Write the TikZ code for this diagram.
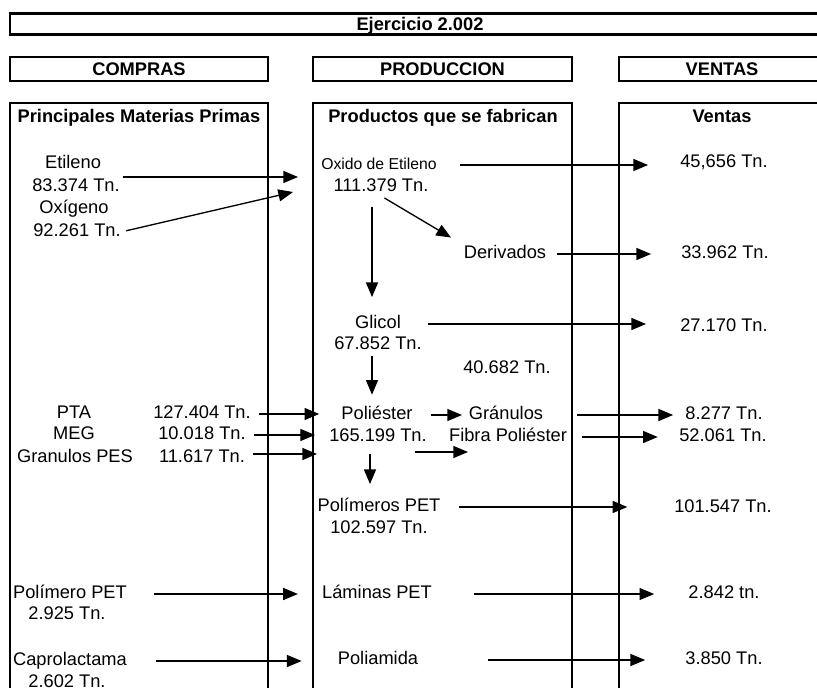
\documentclass[tikz,border=0pt]{standalone}
\usepackage{fontspec}
\setmainfont{Liberation Sans}
\usetikzlibrary{arrows.meta}

\tikzset{
  caja/.style={draw, line width=2pt, inner sep=0pt, text height=9.8pt, text depth=0pt, font=\fontsize{13.7}{16}\selectfont\bfseries},
  columna/.style={line width=2pt},
  cabecera/.style={inner sep=0pt, text height=10pt, text depth=3pt, font=\fontsize{13.7}{16}\selectfont\bfseries},
  txt/.style={inner sep=0pt, text height=10pt, text depth=3pt, font=\fontsize{13.7}{16}\selectfont},
  txtchico/.style={txt, font=\fontsize{11.8}{14}\selectfont},
  flecha/.style={line width=1pt, -{Triangle[length=11pt,width=9pt]}},
}

\begin{document}
\begin{tikzpicture}[x=0.75pt,y=0.75pt,yscale=-1,xscale=1]
\useasboundingbox (0,0) rectangle (817,688);
\clip (0,0) rectangle (817,688);

%Shape: Rectangle (title and headers)
\node[caja, minimum width=615pt, minimum height=15.75pt] (titulo) at (420,24) {Ejercicio 2.002};
\node[caja, minimum width=193.5pt, minimum height=18pt] (compras) at (139,69) {COMPRAS};
\node[caja, minimum width=194.25pt, minimum height=18pt] (produccion) at (442.5,69) {PRODUCCION};
\node[caja, minimum width=154.5pt, minimum height=18pt] (ventas) at (722,69) {VENTAS};

%Shape: Rectangle (columns)
\draw[columna] (10,103) rectangle (268,720);
\draw[columna] (313,103) rectangle (572,720);
\draw[columna] (619,103) rectangle (830,720);

% Text Node
\node[cabecera] (hcompras) at (139,118) {Principales Materias Primas};
\node[cabecera] (hproduccion) at (443,118) {Productos que se fabrican};
\node[cabecera] (hventas) at (722,118) {Ventas};

% Text Node (compras)
\node[txt] (etileno) at (73,164) {Etileno};
\node[txt] (etq83) at (76,187) {83.374 Tn.};
\node[txt] (oxigeno) at (74,209) {Oxígeno};
\node[txt] (etq92) at (77,232) {92.261 Tn.};
\node[txt] (pta) at (74,414) {PTA};
\node[txt] (meg) at (74,435) {MEG};
\node[txt] (gpes) at (75,458) {Granulos PES};
\node[txt] (pta127) at (202,414) {127.404 Tn.};
\node[txt] (meg10) at (202,435) {10.018 Tn.};
\node[txt] (gpes11) at (202,458) {11.617 Tn.};
\node[txt] (polpet) at (70,594) {Polímero PET};
\node[txt] (polpet29) at (67,615) {2.925 Tn.};
\node[txt] (capro) at (70,661) {Caprolactama};
\node[txt] (capro26) at (67,683) {2.602 Tn.};

% Text Node (produccion)
\node[txtchico] (oxido) at (379,165) {Oxido de Etileno};
\node[txt] (oxido111) at (381,187) {111.379 Tn.};
\node[txt] (deriv) at (505,254) {Derivados};
\node[txt] (glicol) at (378,324) {Glicol};
\node[txt] (glicol67) at (378,345) {67.852 Tn.};
\node[txt] (resto) at (507,369) {40.682 Tn.};
\node[txt] (poli) at (377,415) {Poliéster};
\node[txt] (poli165) at (378,437) {165.199 Tn.};
\node[txt] (gran) at (506,415) {Gránulos};
\node[txt] (fibra) at (508,437) {Fibra Poliéster};
\node[txt] (pet) at (379,507) {Polímeros PET};
\node[txt] (pet102) at (379,529) {102.597 Tn.};
\node[txt] (laminas) at (377,594) {Láminas PET};
\node[txt] (poliam) at (378,660) {Poliamida};

% Text Node (ventas)
\node[txt] (v1) at (724,163) {45,656 Tn.};
\node[txt] (v2) at (725,254) {33.962 Tn.};
\node[txt] (v3) at (724,327) {27.170 Tn.};
\node[txt] (v4) at (724,415) {8.277 Tn.};
\node[txt] (v5) at (723,437) {52.061 Tn.};
\node[txt] (v6) at (723,508) {101.547 Tn.};
\node[txt] (v7) at (724,594) {2.842 tn.};
\node[txt] (v8) at (724,660) {3.850 Tn.};

% free arrow ends
\coordinate (inEt) at (298,177);
\coordinate (inOx) at (293,192);
\coordinate (inG) at (317,454);
\coordinate (fA) at (415,452);
\coordinate (fB) at (468,452);
\coordinate (vG) at ([xshift=-4.5pt]glicol.north);
\coordinate (vP) at ([xshift=-3.75pt]poli.north);
\coordinate (vE) at ([xshift=-6.75pt]pet.north);

%Straight Lines (compras -> produccion)
\draw[flecha, shorten <=2pt] (etq83.east |- inEt) -- (inEt);
\draw[flecha, shorten <=4pt] (etq92.east) -- (inOx);
\draw[flecha, shorten <=6pt, shorten >=16.5pt] (pta127.east) -- (pta127.east -| poli.west);
\draw[flecha, shorten <=6pt, shorten >=10.5pt] (meg10.east) -- (meg10.east -| poli165.west);
\draw[flecha, shorten <=6pt] (gpes11.east |- inG) -- (inG);
\draw[flecha, shorten <=20pt, shorten >=18pt] (polpet.east) -- (polpet.east -| laminas.west);
\draw[flecha, shorten <=22pt, shorten >=27pt] (capro.east) -- (capro.east -| poliam.west);

%Straight Lines (dentro de produccion)
\draw[flecha, shorten <=3pt, shorten >=11pt] (oxido111.south) -- (deriv.north west);
\draw[flecha, shorten <=8pt, shorten >=13.5pt] (vG |- oxido111.south) -- (vG);
\draw[flecha, shorten <=1.5pt, shorten >=8.5pt] (vP |- glicol67.south) -- (vP);
\draw[flecha, shorten <=6pt, shorten >=10.5pt] (vE |- poli165.south) -- (vE);
\draw[flecha, shorten <=14pt, shorten >=5pt] (poli.east) -- (poli.east -| gran.west);
\draw[flecha] (fA) -- (fB);

%Straight Lines (produccion -> ventas)
\draw[flecha, shorten <=17pt, shorten >=24pt] (oxido.east) -- (oxido.east -| v1.west);
\draw[flecha, shorten <=8pt, shorten >=22.5pt] (deriv.east) -- (v2.west);
\draw[flecha, shorten <=20pt, shorten >=25.5pt] (glicol.east) -- (glicol.east -| v3.west);
\draw[flecha, shorten <=25.5pt, shorten >=9pt] (gran.east) -- (gran.east -| v4.west);
\draw[flecha, shorten <=11pt, shorten >=16pt] (fibra.east) -- (fibra.east -| v5.west);
\draw[flecha, shorten <=14pt, shorten >=35pt] (pet.east) -- (pet.east -| v6.west);
\draw[flecha, shorten <=31.5pt, shorten >=25.5pt] (laminas.east) -- (v7.west);
\draw[flecha, shorten <=52.5pt, shorten >=30pt] (poliam.east) -- (v8.west);

\end{tikzpicture}
\end{document}
